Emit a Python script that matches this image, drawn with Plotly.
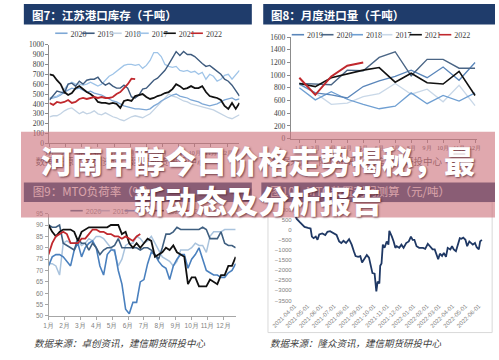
import plotly.graph_objects as go

W, H = 499, 360
def px(x): return x / W
def py(y): return 1 - y / H

month_labels = [f"{m}月" for m in range(1, 13)]
weeks = list(range(1, 53))
week_month_ticks = [1 + i * 52 / 12 for i in range(12)]
months_num = list(range(1, 13))

# ---------------- 图7 江苏港口库存（千吨）, weekly ----------------
port_2020 = [450, 460, 470, 490, 520, 540, 560, 550, 560, 540, 520, 530, 510, 500, 490, 470, 450, 430, 420, 400,
             380, 370, 360, 350, 350, 345, 340, 350, 380, 400, 430, 450, 470, 490, 500, 480, 470, 460, 440, 430,
             420, 400, 390, 380, 390, 400, 420, 440, 450, 460, 440, 450]
port_2019 = [440, 480, 530, 520, 510, 600, 610, 580, 630, 600, 640, 650, 650, 670, 620, 590, 610, 580, 560, 560,
             590, 560, 470, 460, 490, 550, 560, 600, 640, 660, 700, 740, 800, 870, 930, 890, 930, 900, 900, 880,
             840, 810, 780, 790, 760, 730, 700, 650, 630, 590, 530, 480]
port_2018 = [270, 280, 280, 300, 330, 350, 360, 330, 300, 320, 300, 310, 330, 300, 290, 310, 290, 270, 260, 240,
             230, 250, 270, 280, 270, 260, 280, 300, 340, 380, 420, 470, 500, 480, 470, 450, 430, 420, 400, 390,
             380, 370, 360, 350, 340, 320, 300, 280, 260, 250, 270, 290]
port_2017 = [460, 470, 480, 500, 550, 600, 620, 600, 600, 590, 600, 620, 600, 580, 600, 640, 680, 700, 730, 760,
             790, 800, 800, 790, 800, 760, 790, 840, 920, 920, 880, 800, 780, 770, 780, 740, 730, 740, 720, 730,
             700, 720, 650, 700, 680, 630, 650, 690, 700, 650, 700, 740]
port_2021 = [700, 690, 640, 600, 520, 490, 510, 560, 580, 550, 520, 500, 470, 420, 410, 410, 400, 410, 400, 360,
             430, 440, 430, 480, 490, 500, 470, 450, 460, 480, 490, 510, 520, 550, 600, 580, 550, 560, 580, 560,
             560, 580, 520, 480, 470, 460, 440, 380, 350, 410, 350, 410]
port_2022 = [410, 390, 420, 410, 420, 440, 410, 420, 450, 460, 450, 460, 470, 460, 470, 460, 460, 470, 500, 520,
             560, 600, 655, 650]

# ---------------- 图8 月度进口量（千吨）, monthly ----------------
imp_2019 = [860, 720, 690, 640, 820, 910, 980, 1080, 960, 1130, 920, 1200]
imp_2020 = [870, 860, 850, 1080, 1070, 1280, 1370, 990, 1250, 1250, 1110, 1110]
imp_2018 = [800, 610, 740, 620, 540, 470, 510, 720, 550, 680, 590, 720]
imp_2017 = [850, 720, 540, 560, 660, 710, 870, 700, 780, 580, 840, 520]
imp_2021 = [870, 820, 960, 1020, 1080, 1120, 890, 1030, 880, 860, 1060, 680]
imp_2022 = [960, 690, 980, 1150, 1200]

# ---------------- 图9 MTO负荷率（%）, weekly ----------------
mto_2020 = [90, 89, 89, 90, 82, 81, 80, 79, 84, 82, 82, 79, 82, 80, 77, 79, 80, 80, 81, 84,
            80, 80, 80, 80, 80, 79, 80, 80, 79, 77, 75, 80, 86, 86, 87, 89, 88, 88, 88, 88,
            88, 88, 89, 88, 84, 84, 84, 87, 82, 81, 81, 80]
mto_2019 = [73, 73, 72, 68, 82, 83, 82, 82, 83, 81, 82, 84, 83, 85, 85, 84, 82, 80, 78, 72,
            75, 81, 82, 82, 85, 84, 82, 83, 85, 82, 79, 76, 75, 74, 72, 74, 79, 79, 79, 80,
            82, 81, 81, 78, 85, 87, 87, 87, 88, 88, 88, 88]
mto_2018 = [72, 76, 77, 77, 76, 74, 72, 79, 82, 76, 80, 82, 83, 80, 72, 68, 77, 79, 79, 70,
            64, 53, 51, 56, 56, 65, 66, 73, 78, 77, 74, 72, 71, 66, 72, 75, 77, 77, 71, 75,
            77, 80, 75, 70, 69, 68, 68, 67, 67, 69, 70, 73]
mto_2021 = [90, 87, 85, 87, 88, 88, 88, 87, 83, 87, 88, 89, 89, 89, 89, 89, 89, 90, 90, 90,
            86, 87, 82, 80, 82, 80, 82, 84, 83, 76, 77, 78, 80, 79, 81, 78, 77, 76, 64, 67,
            67, 63, 63, 63, 66, 65, 64, 68, 68, 72, 72, 76]
mto_2022 = [77, 82, 85, 86, 87, 86, 82, 82, 82, 84, 84, 86, 88, 88, 87, 87, 86, 86, 85, 85,
            84, 85, 84, 83, 85, 86]

# ---------------- 图10 MTO利润测算（元/吨）, daily ----------------
profit_dates = ["2021-04-01", "2021-04-06", "2021-04-13", "2021-04-21", "2021-04-24", "2021-05-02", "2021-05-08",
                "2021-05-11", "2021-05-15", "2021-05-20", "2021-05-24", "2021-05-28", "2021-06-04", "2021-06-11",
                "2021-06-16", "2021-06-22", "2021-06-30", "2021-07-07", "2021-07-13", "2021-07-18", "2021-07-23",
                "2021-07-29", "2021-08-05", "2021-08-11", "2021-08-16", "2021-08-20", "2021-08-26", "2021-08-31",
                "2021-09-04", "2021-09-09", "2021-09-15", "2021-09-20", "2021-09-24", "2021-09-28", "2021-10-03",
                "2021-10-07", "2021-10-10", "2021-10-14", "2021-10-16", "2021-10-19", "2021-10-22", "2021-10-26",
                "2021-10-31", "2021-11-04", "2021-11-06", "2021-11-09", "2021-11-12", "2021-11-16", "2021-11-20",
                "2021-11-23", "2021-11-29", "2021-12-04", "2021-12-09", "2021-12-15", "2021-12-21", "2021-12-26",
                "2021-12-30", "2022-01-03", "2022-01-08", "2022-01-14", "2022-01-20", "2022-01-23", "2022-01-28",
                "2022-02-03", "2022-02-08", "2022-02-14", "2022-02-19", "2022-02-23", "2022-02-27", "2022-03-03",
                "2022-03-08", "2022-03-12", "2022-03-17", "2022-03-21", "2022-03-27", "2022-03-31", "2022-04-04",
                "2022-04-09", "2022-04-13", "2022-04-18", "2022-04-22", "2022-04-26", "2022-05-01", "2022-05-05",
                "2022-05-10", "2022-05-14", "2022-05-18", "2022-05-23", "2022-05-27", "2022-06-01", "2022-06-04",
                "2022-06-08"]
profit_values = [800, 560, 400, 240, 160, 110, 80, -320, -400, -320, -480, -210, -160, -240,
                 -80, -50, -160, -240, -560, -640, -530, -640, -450, -720, -1050, -1290, -1330, -1290,
                 -1610, -1450, -1240, -1370, -1770, -2140, -2170, -3050, -2570, -2650, -1770, -1660, -720, -880,
                 -560, -720, -30, -160, -320, -560, -880, -800, -880, -720, -880, -640, -560, -320,
                 -480, -480, -800, -880, -880, -880, -930, -680, -800, -960, -960, -1240, -1450, -1170,
                 -1290, -1130, -1330, -880, -960, -800, -960, -1050, -720, -400, -430, -370, -480, -800,
                 -560, -640, -720, -640, -850, -960, -560, -480]
profit_ticks = ["2021-04-01", "2021-05-01", "2021-06-01", "2021-07-01", "2021-08-01", "2021-09-01",
                "2021-10-01", "2021-11-01", "2021-12-01", "2022-01-01", "2022-02-01", "2022-03-01",
                "2022-04-01", "2022-05-01", "2022-06-01"]

NAVY = "#1f3c6b"
RED = "#c0282d"
BLACK = "#111111"

fig = go.Figure()

def add(x, y, color, width, xa, ya):
    fig.add_trace(go.Scatter(x=x, y=y, mode="lines", line=dict(color=color, width=width),
                             xaxis=xa, yaxis=ya, showlegend=False, hoverinfo="skip"))

# 图7
c7 = {"2020": "#7ea8d6", "2019": "#3e5b7e", "2018": "#c3d3e4", "2017": "#9fc4e8", "2021": BLACK, "2022": RED}
add(weeks, port_2018, c7["2018"], 1.3, "x", "y")
add(weeks, port_2020, c7["2020"], 1.3, "x", "y")
add(weeks, port_2017, c7["2017"], 1.3, "x", "y")
add(weeks, port_2019, c7["2019"], 1.4, "x", "y")
add(weeks, port_2021, c7["2021"], 1.8, "x", "y")
add(weeks[:len(port_2022)], port_2022, c7["2022"], 1.8, "x", "y")

# 图8
c8 = {"2019": "#5a86ba", "2020": "#4a6585", "2018": "#6f9fd2", "2017": "#c9d8e8", "2021": BLACK, "2022": RED}
add(months_num, imp_2017, c8["2017"], 1.3, "x2", "y2")
add(months_num, imp_2018, c8["2018"], 1.3, "x2", "y2")
add(months_num, imp_2019, c8["2019"], 1.3, "x2", "y2")
add(months_num, imp_2020, c8["2020"], 1.4, "x2", "y2")
add(months_num, imp_2021, c8["2021"], 1.6, "x2", "y2")
add(months_num[:len(imp_2022)], imp_2022, c8["2022"], 2.0, "x2", "y2")

# 图9
c9 = {"2020": "#3f5f80", "2019": "#a9c3dd", "2018": "#4a80be", "2021": BLACK, "2022": RED}
add(weeks, mto_2019, c9["2019"], 1.5, "x3", "y3")
add(weeks, mto_2018, c9["2018"], 1.6, "x3", "y3")
add(weeks, mto_2020, c9["2020"], 1.6, "x3", "y3")
add(weeks, mto_2021, c9["2021"], 1.8, "x3", "y3")
add(weeks[:len(mto_2022)], mto_2022, c9["2022"], 1.8, "x3", "y3")

# 图10
add(profit_dates, profit_values, "#1f3864", 1.8, "x4", "y4")

top_axis = dict(showline=True, linecolor="#8c8c8c", linewidth=1, ticks="outside", ticklen=3,
                tickcolor="#8c8c8c", showgrid=False, zeroline=False,
                tickfont=dict(family="Liberation Serif", size=7.5, color="#404040"))
top_xfont = dict(family="Liberation Serif", size=6, color="#404040")
bl_axis = dict(showline=True, linecolor="#a6a6a6", linewidth=1, ticks="outside", ticklen=3,
               tickcolor="#a6a6a6", showgrid=False, zeroline=False,
               tickfont=dict(family="Liberation Sans", size=6.5, color="#7f7f7f"))
br_axis = dict(showline=False, ticks="", showgrid=False, zeroline=False,
               tickfont=dict(family="Liberation Sans", size=6, color="#7f7f7f"))

top_x = {k: v for k, v in top_axis.items() if k != "tickfont"}

fig.update_layout(
    width=W, height=H, margin=dict(l=0, r=0, t=0, b=0),
    paper_bgcolor="white", plot_bgcolor="rgba(0,0,0,0)", showlegend=False,
    xaxis=dict(domain=[px(30), px(230)], range=[1, 52], anchor="y", tickangle=0, tickfont=top_xfont,
               tickvals=week_month_ticks, ticktext=month_labels, **top_x),
    yaxis=dict(domain=[py(143), py(41.7)], range=[0, 1000], dtick=100, anchor="x", **top_axis),
    xaxis2=dict(domain=[px(284), px(480)], range=[0.465, 12.119], anchor="y2", tickangle=0, tickfont=top_xfont,
                tickvals=months_num, ticktext=month_labels, **top_x),
    yaxis2=dict(domain=[py(138), py(34)], range=[0, 1600], dtick=200, anchor="x2", **top_axis),
    xaxis3=dict(domain=[px(29), px(226)], range=[1, 52], anchor="y3", tickangle=0,
                tickvals=week_month_ticks, ticktext=month_labels, **bl_axis),
    yaxis3=dict(domain=[py(320), py(215)], range=[50, 95], dtick=5, anchor="x3", **bl_axis),
    xaxis4=dict(type="date", domain=[px(286), px(490)], range=["2021-03-27 14:00", "2022-06-18 14:00"],
                anchor="y4", tickvals=profit_ticks, ticktext=profit_ticks, tickangle=-45, **br_axis),
    yaxis4=dict(domain=[py(304), py(211.4)], range=[-3500, 1000], dtick=500, anchor="x4", **br_axis),
)

shapes = []
annotations = []

# panel border of 图10
shapes.append(dict(type="rect", xref="paper", yref="paper", x0=px(260), x1=px(496), y0=py(337), y1=py(203),
                   line=dict(color="#d9d9d9", width=1), fillcolor="rgba(0,0,0,0)", layer="below"))

# header bars
for (x0, x1, y0, y1) in [(3, 243, 0, 21), (255, 499, 0, 21)]:
    shapes.append(dict(type="rect", xref="paper", yref="paper", x0=px(x0), x1=px(x1), y0=py(y1), y1=py(y0),
                       fillcolor=NAVY, line=dict(width=0), layer="above"))
annotations.append(dict(xref="paper", yref="paper", x=px(9), y=py(11), xanchor="left", yanchor="middle",
                        showarrow=False, text="<b>图7：江苏港口库存（千吨）</b>",
                        font=dict(family="Noto Sans CJK SC", size=11.5, color="white")))
annotations.append(dict(xref="paper", yref="paper", x=px(261), y=py(11), xanchor="left", yanchor="middle",
                        showarrow=False, text="<b>图8：月度进口量（千吨）</b>",
                        font=dict(family="Noto Sans CJK SC", size=11.5, color="white")))

# bottom header bars (under banner) with labels
for (x0, x1, txt) in [(3, 243, "图9：MTO负荷率（%）"), (253, 499, "图10：MTO装置利润测算（元/吨）")]:
    shapes.append(dict(type="rect", xref="paper", yref="paper", x0=px(x0), x1=px(x1), y0=py(203), y1=py(183),
                       fillcolor=NAVY, line=dict(width=0), layer="above",
                       label=dict(text=txt, textposition="middle left", padding=6,
                                  font=dict(family="Noto Sans CJK SC", size=11.5, color="#f2f2f2"))))

# top source lines (under banner)
for (x0, txt) in [(10, "数据来源：卓创资讯，建信期货研投中心"), (258, "数据来源：隆众资讯，建信期货研投中心")]:
    shapes.append(dict(type="rect", xref="paper", yref="paper", x0=px(x0), x1=px(x0 + 200), y0=py(171), y1=py(155),
                       fillcolor="rgba(0,0,0,0)", line=dict(width=0), layer="above",
                       label=dict(text=txt, textposition="middle left", padding=2,
                                  font=dict(family="Noto Sans CJK SC", size=9.5, color="#555555"))))

# legends
def legend(items, colors, x_start, step, y, seg, font):
    for i, name in enumerate(items):
        x0 = x_start + i * step
        shapes.append(dict(type="line", xref="paper", yref="paper", x0=px(x0), x1=px(x0 + seg), y0=py(y), y1=py(y),
                           line=dict(color=colors[name], width=1.6), layer="above",
                           label=dict(text=name, textposition="end", xanchor="left", yanchor="middle",
                                      padding=3, textangle=0, font=font)))

serif_font = dict(family="Liberation Serif", size=8, color="#404040")
legend(["2020", "2019", "2018", "2017", "2021", "2022"], c7, 36, 28.5, 30, 13, serif_font)
legend(["2019", "2020", "2018", "2017", "2021", "2022"], c8, 285, 31, 31.5, 13, serif_font)
legend(["2020", "2019", "2018", "2021", "2022"], c9, 52, 28.5, 212, 13,
       dict(family="Liberation Sans", size=7, color="#7f7f7f"))

# banner overlay (must be last shape)
shapes.append(dict(type="rect", xref="paper", yref="paper", x0=0, x1=1, y0=py(219), y1=py(131),
                   fillcolor="rgba(205,115,124,0.62)", line=dict(width=0), layer="above"))

# bottom source lines
annotations.append(dict(xref="paper", yref="paper", x=px(12), y=py(348), xanchor="left", yanchor="middle",
                        showarrow=False, text="数据来源：卓创资讯，建信期货研投中心",
                        font=dict(family="Noto Sans CJK SC", size=9.5, color="#404040", style="italic")))
annotations.append(dict(xref="paper", yref="paper", x=px(260), y=py(348), xanchor="left", yanchor="middle",
                        showarrow=False, text="数据来源：隆众资讯，建信期货研投中心",
                        font=dict(family="Noto Sans CJK SC", size=9.5, color="#404040", style="italic")))

# big title
annotations.append(dict(xref="paper", yref="paper", x=0.5, y=py(180), xanchor="center", yanchor="middle",
                        showarrow=False, align="center",
                        text="河南甲醇今日价格走势揭秘，最<br>新动态及分析报告",
                        font=dict(family="Noto Sans CJK SC", size=31, color="white", weight=900,
                                  shadow="1px 1px 2px rgba(70,20,30,0.7)")))

fig.update_layout(shapes=shapes, annotations=annotations)
fig.write_html("out.html", config={"displayModeBar": False},
               post_script="document.body.style.margin='0';")
